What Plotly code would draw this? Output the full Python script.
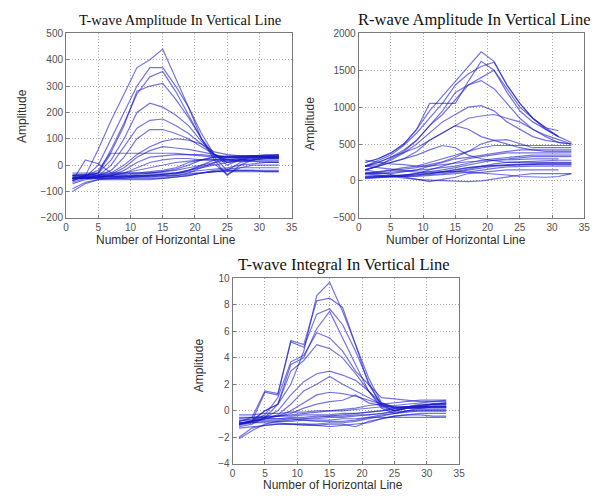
import plotly.graph_objects as go

# ---------------- data (x = 1,3,5,... per series) ----------------
t_amp_series = [
    [-60, -40, 60, 170, 270, 370, 400, 440, 330, 220, 100, 20, -40, 0, 20, 30, 30],
    [-50, -45, 0, 100, 200, 300, 370, 370, 300, 220, 120, 40, 0, 20, 25, 30, 30],
    [-50, -40, -30, 60, 160, 270, 335, 355, 280, 190, 100, 30, -20, 10, 20, 25, 25],
    [-40, -40, -20, 50, 150, 280, 300, 310, 250, 180, 100, 40, 10, 20, 30, 30, 30],
    [-60, -40, -30, 20, 100, 200, 235, 220, 190, 150, 90, 40, 10, 20, 25, 30, 30],
    [-50, -45, -40, 0, 70, 140, 170, 175, 150, 120, 80, 40, 20, 25, 30, 30, 30],
    [-50, -50, -40, -20, 30, 100, 135, 135, 120, 100, 70, 40, 20, 25, 30, 30, 30],
    [-50, -45, -40, -30, 0, 40, 70, 90, 100, 95, 80, 50, 40, 35, 35, 35, 35],
    [-50, -50, -45, -35, -10, 30, 55, 70, 65, 60, 50, 40, 30, 30, 30, 30, 30],
    [-50, -40, -30, 45, 45, 45, 45, 45, 45, 40, 40, 35, 30, 30, 35, 35, 35],
    [-60, 20, 5, -30, -30, -30, -25, -20, -10, 10, 20, 30, 30, 35, 35, 35, 40],
    [-50, -50, -45, -40, -20, 10, 30, 35, 40, 40, 35, 30, 30, 30, 30, 25, 25],
    [-50, -50, -50, -40, -30, -10, 10, 20, 25, 25, 20, 20, 20, 15, 15, 10, 10],
    [-40, -40, -40, -40, -40, -35, -30, -25, -15, 0, 20, 30, 35, 35, 35, 35, 35],
    [-70, -55, -50, -50, -50, -45, -45, -40, -35, -20, 0, 20, 30, 30, 30, 30, 30],
    [-100, -70, -55, -50, -50, -50, -50, -50, -45, -40, -30, -20, -15, -10, -10, -10, -10],
    [-90, -65, -55, -55, -55, -55, -55, -50, -45, -40, -30, -25, -20, -20, -20, -25, -25],
    [-30, -30, -30, -30, -30, -30, -30, -30, -30, -30, -30, -25, -20, -20, -20, -20, -20],
    [-40, -45, -45, -45, -40, -40, -35, -35, -30, -25, -20, -15, -10, 0, 5, 10, 10],
    [-50, -50, -50, -50, -45, -45, -40, -40, -40, -35, -30, -25, -25, -25, -25, -25, -25],
    [-35, -35, -35, -35, -35, -30, -30, -25, -20, -10, 0, 10, 15, 20, 20, 20, 20],
    [-55, -50, -45, -40, -30, -20, -10, 0, 10, 15, 20, 20, 20, 20, 15, 15, 15],
    [-45, -45, -45, -45, -45, -45, -45, -45, -40, -30, -10, 10, 25, 30, 35, 40, 40],
    [-40, -35, -40, -45, -45, -40, -40, -35, -30, -20, -5, 5, -35, -10, 0, 0, 0],
    [-65, -50, -45, -45, -45, -40, -40, -35, -30, -20, -10, 0, 10, 15, 20, 25, 25],
]

r_amp_series = [
    [250, 300, 380, 500, 700, 950, 1150, 1350, 1550, 1750, 1620, 1300, 1050, 850, 720, 680],
    [200, 280, 350, 480, 650, 850, 1050, 1300, 1450, 1550, 1610, 1300, 1050, 850, 720, 600],
    [250, 300, 380, 500, 700, 1050, 1050, 1050, 1350, 1620, 1500, 1250, 1000, 850, 700, 600, 520],
    [200, 250, 320, 420, 550, 750, 900, 1100, 1300, 1400, 1500, 1200, 950, 800, 700, 600],
    [150, 200, 300, 400, 550, 750, 950, 1200, 1300, 1360, 1250, 1050, 850, 700, 620, 560, 500],
    [200, 220, 280, 380, 500, 650, 800, 900, 1000, 1020, 950, 800, 700, 600, 550, 520, 500],
    [150, 200, 250, 300, 400, 550, 650, 750, 850, 880, 900, 850, 800, 700, 600, 520, 500],
    [200, 250, 320, 380, 450, 550, 650, 750, 700, 600, 550, 500, 450, 420, 400, 400, 400],
    [150, 200, 250, 300, 350, 420, 480, 450, 350, 300, 280, 250, 250, 250, 250, 250, 250],
    [100, 120, 150, 180, 200, 250, 300, 350, 400, 500, 550, 560, 500, 450, 450, 450, 450],
    [100, 120, 130, 150, 180, 220, 260, 320, 400, 450, 480, 480, 480, 480, 480, 480, 480],
    [50, 60, 70, 80, 100, 150, 200, 250, 300, 330, 350, 380, 380, 380, 380, 380, 380],
    [50, 50, 60, 80, 100, 120, 150, 180, 220, 250, 280, 300, 320, 330, 330, 330, 330],
    [50, 60, 60, 70, 80, 100, 120, 150, 180, 200, 210, 220, 230, 230, 240, 240, 240],
    [30, 40, 50, 60, 80, 100, 130, 150, 180, 200, 200, 210, 220, 220, 220, 220, 220],
    [100, 80, 60, 40, 20, 10, 0, 0, -10, 0, 30, 60, 80, 100, 100, 100, 100],
    [150, 120, 80, 50, 20, -10, 20, 50, 100, 120, 140, 150, 150, 150, 150, 150],
    [200, 180, 150, 130, 120, 120, 130, 130, 120, 110, 100, 80, 60, 50, 50, 60, 100],
    [280, 250, 230, 220, 200, 200, 220, 250, 260, 270, 280, 290, 300, 300, 300, 300],
    [100, 100, 120, 130, 140, 160, 180, 200, 240, 280, 300, 320, 340, 350, 350, 350, 350],
    [60, 60, 70, 80, 90, 100, 110, 130, 160, 200, 230, 250, 260, 270, 280, 280, 280],
    [40, 50, 50, 60, 60, 70, 80, 100, 120, 150, 170, 190, 200, 200, 200, 200, 200],
    [120, 100, 100, 120, 150, 200, 250, 300, 320, 350, 380, 400, 420, 420, 420, 420, 420],
    [80, 70, 60, 60, 70, 80, 100, 120, 150, 180, 200, 210, 220, 220, 230, 230, 230],
]

t_int_series = [
    [-1.0, -0.7, 0.0, 0.5, 2.0, 4.5, 8.7, 9.7, 7.5, 5.0, 2.0, 0.5, 0.0, 0.3, 0.4, 0.5, 0.5],
    [-0.8, -0.5, 1.5, 1.3, 5.3, 5.0, 8.3, 8.5, 7.8, 5.0, 2.5, 0.6, 0.2, 0.3, 0.5, 0.5, 0.5],
    [-0.9, -0.8, 1.4, 1.2, 5.2, 4.8, 7.3, 7.7, 6.5, 4.5, 2.2, 0.3, 0.0, 0.2, 0.3, 0.4, 0.4],
    [-1.0, -0.8, 0.0, 0.5, 3.5, 4.0, 6.2, 7.5, 5.5, 3.5, 1.5, 0.2, -0.2, 0.0, 0.2, 0.3, 0.3],
    [-1.2, -1.0, -0.5, 0.5, 3.0, 3.8, 5.0, 4.7, 4.0, 2.8, 1.5, 0.4, 0.0, 0.2, 0.3, 0.3, 0.3],
    [-1.0, -0.8, -0.3, 1.0, 3.7, 4.2, 5.9, 5.5, 4.5, 3.0, 2.0, 1.0, 0.9, 0.8, 0.7, 0.7, 0.7],
    [-1.0, -0.8, -0.5, 0.0, 1.2, 2.2, 2.8, 3.0, 2.7, 2.3, 1.5, 0.6, 0.3, 0.3, 0.3, 0.3, 0.3],
    [-1.1, -0.9, -0.6, -0.3, 0.5, 1.5, 2.0, 2.6, 2.0, 1.5, 1.0, 0.5, 0.2, 0.2, 0.2, 0.2, 0.2],
    [-1.0, -0.8, -0.6, -0.4, 0.0, 0.6, 1.2, 1.4, 1.3, 1.1, 0.8, 0.5, 0.3, 0.3, 0.3, 0.3, 0.3],
    [-0.8, -0.6, -0.5, -0.4, -0.2, 0.2, 0.5, 0.7, 0.8, 1.2, 0.6, 0.4, 0.2, 0.3, 0.4, 0.5, 0.5],
    [-2.1, -1.5, -1.0, -0.8, -0.7, -0.6, -0.6, -0.5, -0.5, -0.4, -0.3, -0.2, 0.0, 0.2, 0.3, 0.5, 0.6],
    [-2.0, -1.3, -1.1, -1.0, -1.0, -1.0, -1.1, -1.0, -1.0, -1.2, -0.8, -0.6, -0.4, -0.3, -0.2, -0.2, -0.2],
    [-0.3, -0.3, -0.2, -0.2, -0.1, -0.1, 0.0, 0.0, 0.0, 0.1, 0.2, 0.3, 0.4, 0.5, 0.6, 0.7, 0.8],
    [-0.6, -0.5, -0.5, -0.4, -0.4, -0.3, -0.3, -0.3, -0.2, -0.2, -0.1, 0.0, 0.2, 0.3, 0.4, 0.5, 0.6],
    [-0.9, -0.9, -0.8, -0.8, -0.8, -0.7, -0.7, -0.7, -0.6, -0.6, -0.5, -0.5, -0.5, -0.5, -0.5, -0.5, -0.5],
    [-1.0, -0.9, -0.9, -0.9, -1.0, -1.0, -1.0, -0.9, -0.9, -0.8, -0.6, -0.4, -0.2, 0.0, 0.1, 0.1, 0.1],
    [-1.3, -1.2, -1.1, -1.0, -1.0, -1.1, -1.1, -1.2, -1.1, -1.0, -0.9, -0.6, -0.4, -0.3, -0.3, -0.4, -0.4],
    [-0.7, -0.7, -0.6, -0.6, -0.5, -0.5, -0.4, -0.4, -0.4, -0.3, -0.3, -0.2, -0.1, 0.0, 0.0, 0.0, 0.0],
    [-0.5, -0.5, -0.4, -0.4, -0.3, -0.2, -0.1, 0.0, 0.1, 0.2, 0.4, 0.5, 0.6, 0.7, 0.8, 0.8, 0.8],
    [-0.9, -0.8, -0.7, -0.7, -0.6, -0.6, -0.5, -0.4, -0.3, -0.2, -0.1, 0.0, 0.1, 0.2, 0.2, 0.3, 0.3],
    [-1.0, -0.8, -0.6, -0.6, -0.6, -0.7, -0.8, -0.8, -0.8, -0.7, -0.5, -0.3, -0.2, -0.1, 0.0, 0.0, 0.0],
]

panel_titles = ["T-wave Amplitude In Vertical Line",
                "R-wave Amplitude In Vertical Line",
                "T-wave Integral In Vertical Line"]
x_title = "Number of Horizontal Line"
y_title = "Amplitude"
x_ticks = [0, 5, 10, 15, 20, 25, 30, 35]
y_ticks_tamp = [-200, -100, 0, 100, 200, 300, 400, 500]
y_ticks_ramp = [-500, 0, 500, 1000, 1500, 2000]
y_ticks_tint = [-4, -2, 0, 2, 4, 6, 8, 10]

# ---------------- figure ----------------
W, H = 609, 503
LINE = dict(color="rgba(25,25,200,0.6)", width=1.2)

fig = go.Figure()
panels = [
    (t_amp_series, "x", "y"),
    (r_amp_series, "x2", "y2"),
    (t_int_series, "x3", "y3"),
]
for series_list, xa, ya in panels:
    for s in series_list:
        xs = list(range(1, 2 * len(s), 2))
        fig.add_trace(go.Scatter(x=xs, y=s, mode="lines", line=LINE,
                                 xaxis=xa, yaxis=ya, showlegend=False,
                                 hoverinfo="skip"))

def px_x(p):
    return p / W

def px_y(p):
    return 1 - p / H

# plot-area pixel boxes (left, right, top, bottom)
boxes = [(64, 293, 28, 217), (361, 590, 28, 217), (233, 463, 279, 469)]
yticks = [y_ticks_tamp, y_ticks_ramp, y_ticks_tint]
# text placement in pixels: (title cx, title cy, title size, xlab cx, xlab cy, ylab cx, ylab cy)
text_pos = [
    (180, 14, 14.5, 165, 240, 20, 113),
    (478, 14, 16.5, 460, 240, 312, 120),
    (346, 265, 16.5, 335, 491, 199, 368),
]

axis_common = dict(showline=True, mirror=True, linecolor="#7a7a7a", linewidth=1,
                   showgrid=True, gridcolor="#a8a8a8", griddash="1px,2px", gridwidth=1,
                   zeroline=False, ticks="inside", ticklen=3, tickcolor="#7a7a7a",
                   tickfont=dict(family="Liberation Sans, Arial", size=10, color="#505050"))

layout_axes = {}
for i, ((l, r, t, b), yt) in enumerate(zip(boxes, yticks)):
    suffix = "" if i == 0 else str(i + 1)
    layout_axes["xaxis" + suffix] = dict(
        domain=[px_x(l), px_x(r)], range=[0, 35], tickvals=x_ticks,
        anchor="y" + suffix, **axis_common)
    layout_axes["yaxis" + suffix] = dict(
        domain=[px_y(b), px_y(t)], range=[yt[0], yt[-1]], tickvals=yt,
        anchor="x" + suffix, **axis_common)

annotations = []
for (tcx, tcy, tsz, xcx, xcy, ycx, ycy), title in zip(text_pos, panel_titles):
    annotations.append(dict(text=title, x=px_x(tcx), y=px_y(tcy), xref="paper", yref="paper",
                            showarrow=False, xanchor="center", yanchor="middle",
                            font=dict(family="Liberation Serif, Times New Roman", size=tsz, color="#111")))
    annotations.append(dict(text=x_title, x=px_x(xcx), y=px_y(xcy), xref="paper", yref="paper",
                            showarrow=False, xanchor="center", yanchor="middle",
                            font=dict(family="Liberation Sans, Arial", size=12, color="#303030")))
    annotations.append(dict(text=y_title, x=px_x(ycx), y=px_y(ycy), xref="paper", yref="paper",
                            showarrow=False, xanchor="center", yanchor="middle", textangle=-90,
                            font=dict(family="Liberation Sans, Arial", size=12, color="#303030")))

fig.update_layout(width=W, height=H, margin=dict(l=0, r=0, t=0, b=0),
                  paper_bgcolor="white", plot_bgcolor="white",
                  annotations=annotations, **layout_axes)

fig.write_html("out.html")
